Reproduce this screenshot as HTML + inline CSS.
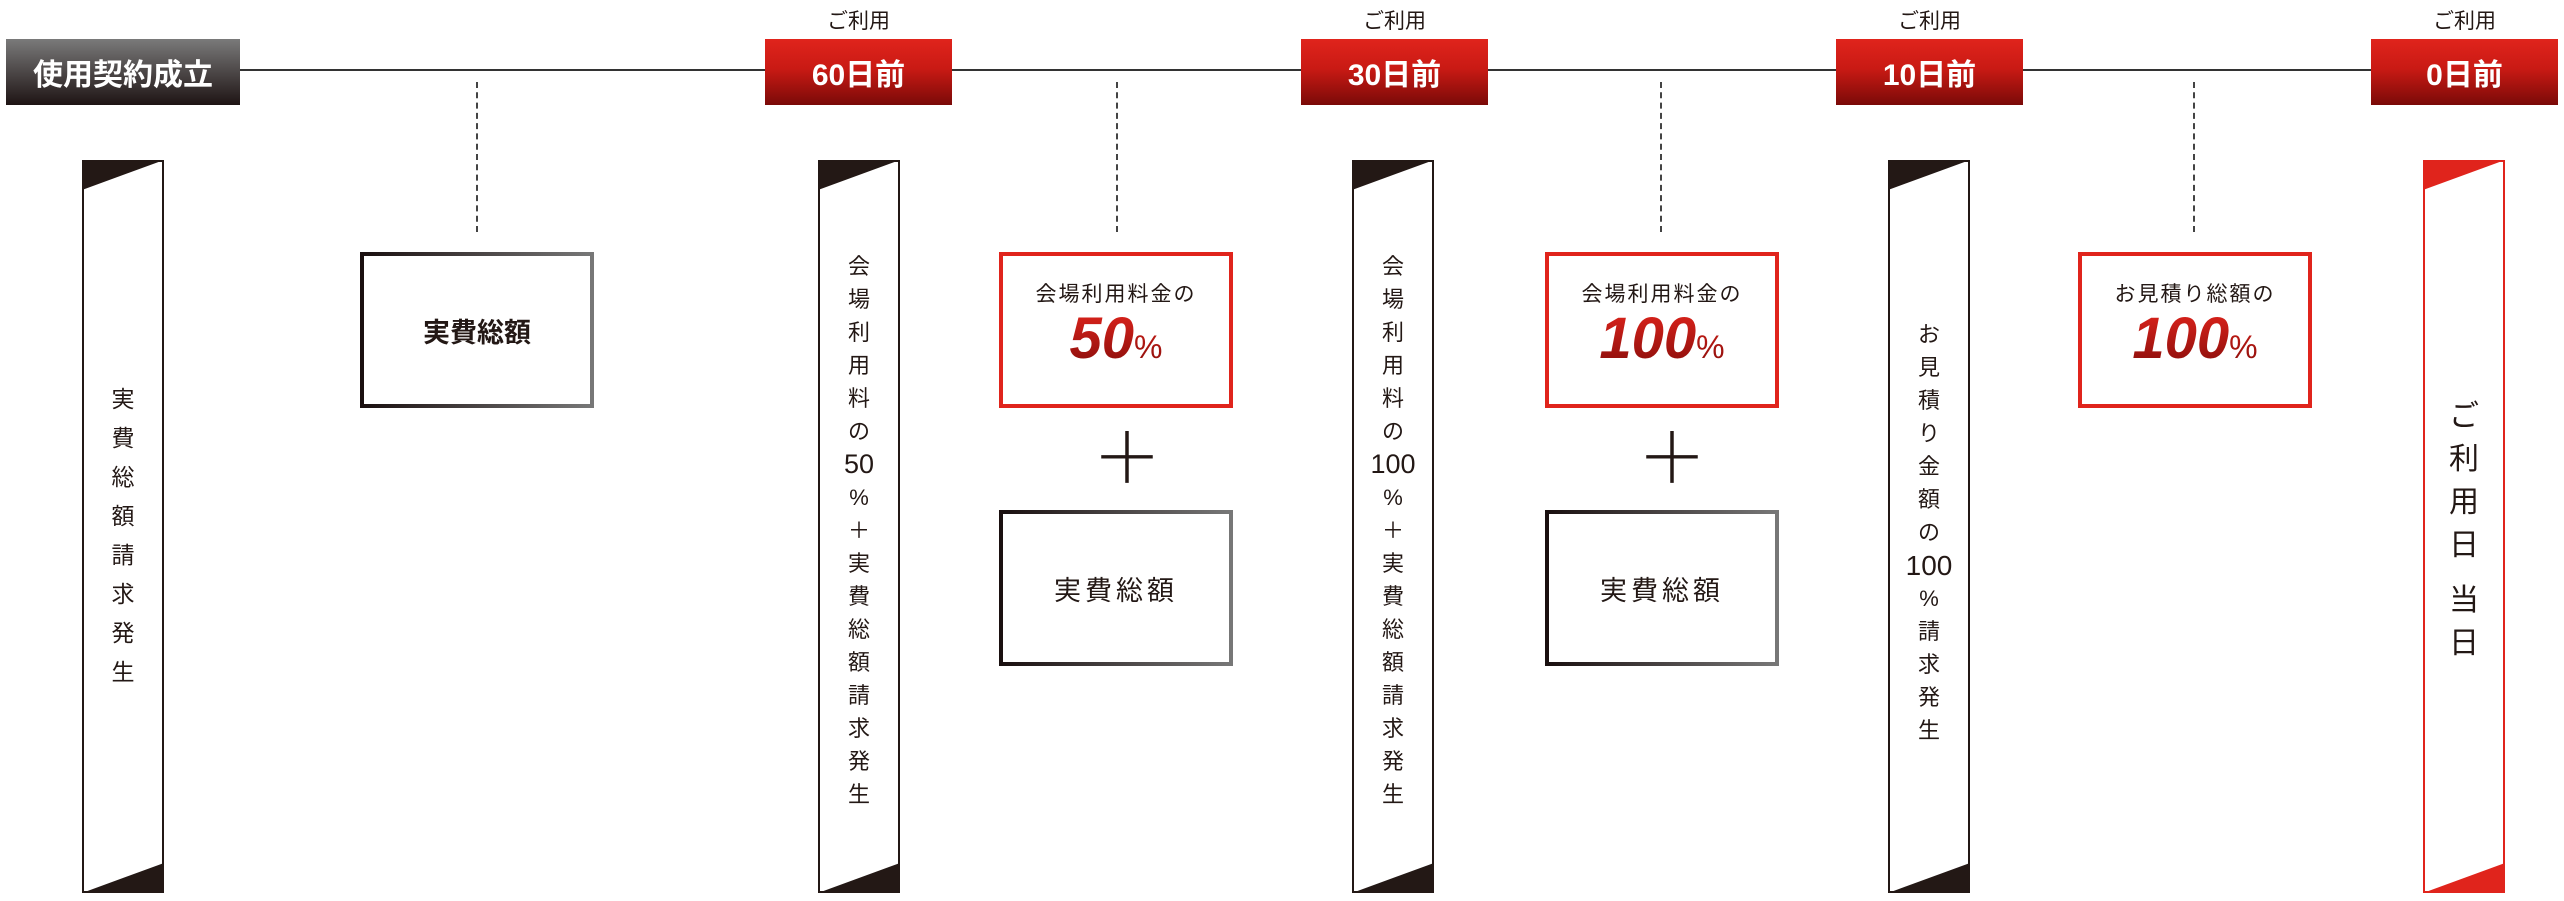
<!DOCTYPE html>
<html><head><meta charset="utf-8"><style>
*{margin:0;padding:0;box-sizing:border-box}
body{width:2564px;height:901px;background:#fff;position:relative;overflow:hidden;font-family:"Liberation Sans","Noto Sans CJK JP",sans-serif;color:#231815}
.a{position:absolute}
.tl{position:absolute;top:69px;height:2px;background:#333}
.hb{position:absolute;top:39px;height:66px;color:#fff;font-weight:bold;font-size:30px;display:flex;align-items:center;justify-content:center}
.red{background:linear-gradient(#e0241c 0%,#c91a14 45%,#7a0a08 100%)}
.gray{background:linear-gradient(#7a7a7a,#1e1414)}
.cap{position:absolute;top:5px;font-size:21px;text-align:center;width:187px}
.dash{position:absolute;top:82px;height:150px;border-left:2px dashed #444}
.ban{position:absolute;top:160px;width:82px;height:733px}
.vt{position:absolute;left:0;width:82px;display:flex;flex-direction:column;align-items:center;font-size:22px}
.vt span{display:block;line-height:33px;height:33px}
.box{position:absolute;width:234px;height:156px;display:flex;flex-direction:column;align-items:center;justify-content:center}
.bk{border:4px solid;border-image:linear-gradient(90deg,#1a1010,#777) 1}
.rd{border:4px solid #e0241c}
.pc{font-style:italic;font-weight:bold;font-size:58px;line-height:62px;background:linear-gradient(#e0241c,#7a0a08);-webkit-background-clip:text;background-clip:text;color:transparent}
.pc small{font-size:32px;font-style:normal;font-weight:normal}
.plus{position:absolute;font-size:70px;font-weight:200;line-height:70px}
</style></head><body>
<div class="tl" style="left:240px;width:2131px"></div>
<div class="hb gray" style="left:6px;width:234px">使用契約成立</div>
<div class="cap" style="left:765px">ご利用</div>
<div class="hb red" style="left:765px;width:187px">60日前</div>
<div class="cap" style="left:1301px">ご利用</div>
<div class="hb red" style="left:1301px;width:187px">30日前</div>
<div class="cap" style="left:1836px">ご利用</div>
<div class="hb red" style="left:1836px;width:187px">10日前</div>
<div class="cap" style="left:2371px">ご利用</div>
<div class="hb red" style="left:2371px;width:187px">0日前</div>

<div class="dash" style="left:476px"></div>
<div class="dash" style="left:1116px"></div>
<div class="dash" style="left:1660px"></div>
<div class="dash" style="left:2193px"></div>

<!-- banners -->
<svg class="ban" style="left:82px" viewBox="0 0 82 733"><rect x="1" y="1" width="80" height="731" fill="#fff" stroke="#231815" stroke-width="2"/><polygon points="0,0 82,0 0,30" fill="#231815"/><polygon points="82,733 0,733 82,703" fill="#231815"/></svg>
<div class="vt" style="left:82px;top:380px;font-size:23px"><span style="line-height:39px;height:39px">実</span><span style="line-height:39px;height:39px">費</span><span style="line-height:39px;height:39px">総</span><span style="line-height:39px;height:39px">額</span><span style="line-height:39px;height:39px">請</span><span style="line-height:39px;height:39px">求</span><span style="line-height:39px;height:39px">発</span><span style="line-height:39px;height:39px">生</span></div>

<svg class="ban" style="left:818px" viewBox="0 0 82 733"><rect x="1" y="1" width="80" height="731" fill="#fff" stroke="#231815" stroke-width="2"/><polygon points="0,0 82,0 0,30" fill="#231815"/><polygon points="82,733 0,733 82,703" fill="#231815"/></svg>
<div class="vt" style="left:818px;top:250px"><span>会</span><span>場</span><span>利</span><span>用</span><span>料</span><span>の</span><span style="font-size:27px">50</span><span>%</span><span>＋</span><span>実</span><span>費</span><span>総</span><span>額</span><span>請</span><span>求</span><span>発</span><span>生</span></div>

<svg class="ban" style="left:1352px" viewBox="0 0 82 733"><rect x="1" y="1" width="80" height="731" fill="#fff" stroke="#231815" stroke-width="2"/><polygon points="0,0 82,0 0,30" fill="#231815"/><polygon points="82,733 0,733 82,703" fill="#231815"/></svg>
<div class="vt" style="left:1352px;top:250px"><span>会</span><span>場</span><span>利</span><span>用</span><span>料</span><span>の</span><span style="font-size:27px">100</span><span>%</span><span>＋</span><span>実</span><span>費</span><span>総</span><span>額</span><span>請</span><span>求</span><span>発</span><span>生</span></div>

<svg class="ban" style="left:1888px" viewBox="0 0 82 733"><rect x="1" y="1" width="80" height="731" fill="#fff" stroke="#231815" stroke-width="2"/><polygon points="0,0 82,0 0,30" fill="#231815"/><polygon points="82,733 0,733 82,703" fill="#231815"/></svg>
<div class="vt" style="left:1888px;top:318px"><span>お</span><span>見</span><span>積</span><span>り</span><span>金</span><span>額</span><span>の</span><span style="font-size:28px">100</span><span>%</span><span>請</span><span>求</span><span>発</span><span>生</span></div>

<svg class="ban" style="left:2423px" viewBox="0 0 82 733"><rect x="1" y="1" width="80" height="731" fill="#fff" stroke="#e0241c" stroke-width="2"/><polygon points="0,0 82,0 0,30" fill="#e0241c"/><polygon points="82,733 0,733 82,703" fill="#e0241c"/></svg>
<div class="vt" style="left:2423px;top:395px;font-size:30px"><span style="line-height:43px;height:43px">ご</span><span style="line-height:43px;height:43px">利</span><span style="line-height:43px;height:43px">用</span><span style="line-height:43px;height:43px">日</span><span style="line-height:12px;height:12px"></span><span style="line-height:43px;height:43px">当</span><span style="line-height:43px;height:43px">日</span></div>

<!-- boxes -->
<div class="box bk" style="left:360px;top:252px;font-size:27px;font-weight:bold">実費総額</div>

<div class="box rd" style="left:999px;top:252px"><div style="font-size:21px;letter-spacing:2px;margin-top:-4px">会場利用料金の</div><div class="pc">50<small>%</small></div></div>
<div class="plus" style="left:1092px;top:424px">＋</div>
<div class="box bk" style="left:999px;top:510px;font-size:27px;letter-spacing:4px">実費総額</div>

<div class="box rd" style="left:1545px;top:252px"><div style="font-size:21px;letter-spacing:2px;margin-top:-4px">会場利用料金の</div><div class="pc">100<small>%</small></div></div>
<div class="plus" style="left:1637px;top:424px">＋</div>
<div class="box bk" style="left:1545px;top:510px;font-size:27px;letter-spacing:4px">実費総額</div>

<div class="box rd" style="left:2078px;top:252px"><div style="font-size:21px;letter-spacing:2px;margin-top:-4px">お見積り総額の</div><div class="pc">100<small>%</small></div></div>
</body></html>
